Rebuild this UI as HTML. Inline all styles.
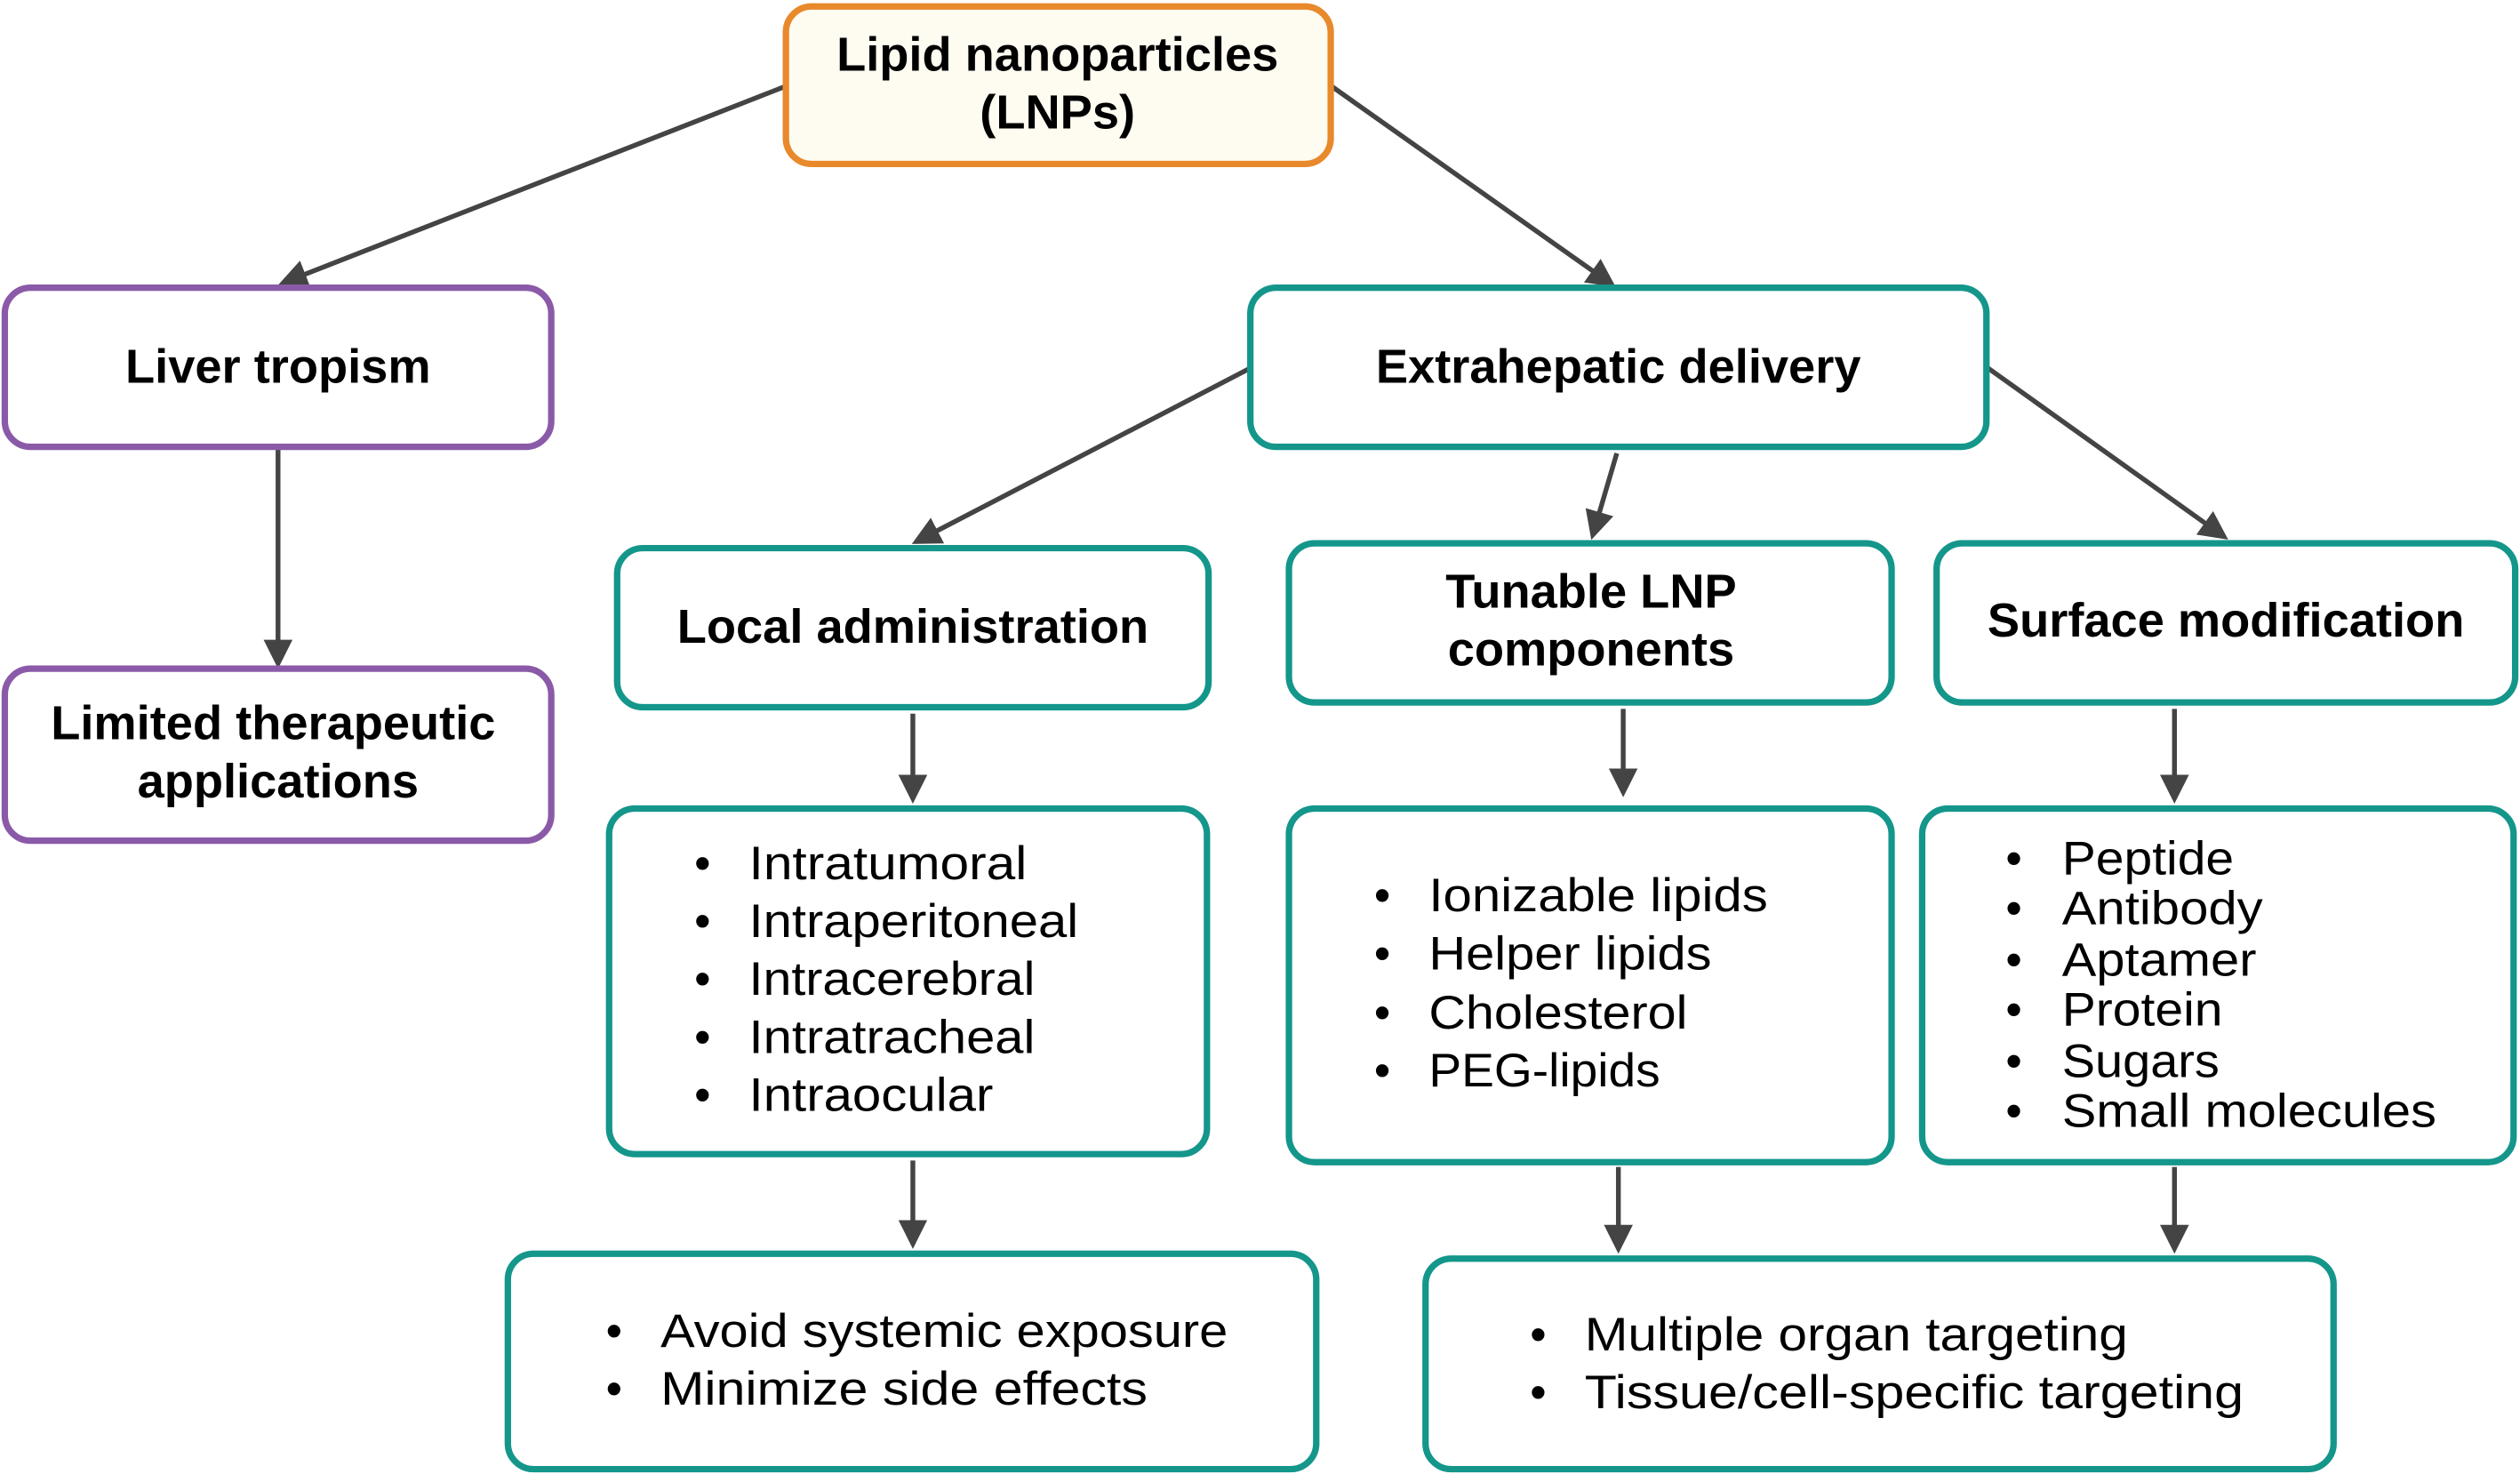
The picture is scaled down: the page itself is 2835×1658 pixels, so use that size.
<!DOCTYPE html>
<html><head><meta charset="utf-8"><style>
html,body{margin:0;padding:0;background:#fff;}
svg{display:block;}
text{font-family:"Liberation Sans",sans-serif;fill:#000;}
.h{font-weight:bold;font-size:30px;text-anchor:middle;}
.l{font-size:29px;}
.t{fill:#fff;stroke:#14968b;stroke-width:4;}
.p{fill:#fff;stroke:#8a5aa8;stroke-width:4;}
.a{stroke:#444;stroke-width:3;fill:none;marker-end:url(#ar);}
</style></head><body>
<svg width="2835" height="1658" viewBox="0 0 1568 917" xmlns="http://www.w3.org/2000/svg">
<defs><marker id="ar" markerWidth="6" markerHeight="6" refX="5" refY="3" orient="auto" markerUnits="strokeWidth"><path d="M0,0 L6,3 L0,6 z" fill="#444"/></marker></defs>
<line class="a" x1="488" y1="54" x2="176" y2="176"/>
<line class="a" x1="829" y1="54" x2="1003" y2="177"/>
<line class="a" x1="173" y1="278" x2="173" y2="413"/>
<line class="a" x1="778" y1="229" x2="570" y2="337"/>
<line class="a" x1="1006" y1="282" x2="991" y2="333"/>
<line class="a" x1="1237" y1="229" x2="1384" y2="334"/>
<line class="a" x1="568" y1="444" x2="568" y2="497"/>
<line class="a" x1="1010" y1="441" x2="1010" y2="493"/>
<line class="a" x1="1353" y1="441" x2="1353" y2="497"/>
<line class="a" x1="568" y1="722" x2="568" y2="774"/>
<line class="a" x1="1007" y1="726" x2="1007" y2="777"/>
<line class="a" x1="1353" y1="726" x2="1353" y2="777"/>

<rect x="489" y="4" width="339" height="98" rx="16" fill="#fefbf1" stroke="#e8892b" stroke-width="4"/>
<text class="h" x="658" y="44">Lipid nanoparticles</text>
<text class="h" x="658" y="80">(LNPs)</text>

<rect class="p" x="3" y="179" width="340" height="99" rx="16"/>
<text class="h" x="173" y="238">Liver tropism</text>
<rect class="p" x="3" y="416" width="340" height="107" rx="16"/>
<text class="h" x="170" y="460">Limited therapeutic</text>
<text class="h" x="173" y="496">applications</text>

<rect class="t" x="778" y="179" width="458" height="99" rx="16"/>
<text class="h" x="1007" y="238">Extrahepatic delivery</text>
<rect class="t" x="384" y="341" width="368" height="99" rx="16"/>
<text class="h" x="568" y="400">Local administration</text>
<rect class="t" x="802" y="338" width="375" height="99" rx="16"/>
<text class="h" x="990" y="378">Tunable LNP</text>
<text class="h" x="990" y="414">components</text>
<rect class="t" x="1205" y="338" width="360" height="99" rx="16"/>
<text class="h" x="1385" y="396">Surface modification</text>

<rect class="t" x="379" y="503" width="372" height="215" rx="16"/>
<g class="l">
<text x="432" y="547">•</text><text x="466" y="547" textLength="173" lengthAdjust="spacingAndGlyphs">Intratumoral</text>
<text x="432" y="583">•</text><text x="466" y="583" textLength="205" lengthAdjust="spacingAndGlyphs">Intraperitoneal</text>
<text x="432" y="619">•</text><text x="466" y="619" textLength="178" lengthAdjust="spacingAndGlyphs">Intracerebral</text>
<text x="432" y="655">•</text><text x="466" y="655" textLength="178" lengthAdjust="spacingAndGlyphs">Intratracheal</text>
<text x="432" y="691">•</text><text x="466" y="691" textLength="152" lengthAdjust="spacingAndGlyphs">Intraocular</text>
</g>
<rect class="t" x="802" y="503" width="375" height="220" rx="16"/>
<g class="l">
<text x="855" y="567">•</text><text x="889" y="567" textLength="211" lengthAdjust="spacingAndGlyphs">Ionizable lipids</text>
<text x="855" y="603">•</text><text x="889" y="603" textLength="176" lengthAdjust="spacingAndGlyphs">Helper lipids</text>
<text x="855" y="640">•</text><text x="889" y="640" textLength="161" lengthAdjust="spacingAndGlyphs">Cholesterol</text>
<text x="855" y="676">•</text><text x="889" y="676" textLength="144" lengthAdjust="spacingAndGlyphs">PEG-lipids</text>
</g>
<rect class="t" x="1196" y="503" width="368" height="220" rx="16"/>
<g class="l">
<text x="1248" y="544">•</text><text x="1283" y="544" textLength="107" lengthAdjust="spacingAndGlyphs">Peptide</text>
<text x="1248" y="575">•</text><text x="1283" y="575" textLength="125" lengthAdjust="spacingAndGlyphs">Antibody</text>
<text x="1248" y="607">•</text><text x="1283" y="607" textLength="121" lengthAdjust="spacingAndGlyphs">Aptamer</text>
<text x="1248" y="638">•</text><text x="1283" y="638" textLength="100" lengthAdjust="spacingAndGlyphs">Protein</text>
<text x="1248" y="670">•</text><text x="1283" y="670" textLength="98" lengthAdjust="spacingAndGlyphs">Sugars</text>
<text x="1248" y="701">•</text><text x="1283" y="701" textLength="233" lengthAdjust="spacingAndGlyphs">Small molecules</text>
</g>
<rect class="t" x="316" y="780" width="503" height="134" rx="16"/>
<g class="l">
<text x="377" y="838">•</text><text x="411" y="838" textLength="353" lengthAdjust="spacingAndGlyphs">Avoid systemic exposure</text>
<text x="377" y="874">•</text><text x="411" y="874" textLength="303" lengthAdjust="spacingAndGlyphs">Minimize side effects</text>
</g>
<rect class="t" x="887" y="783" width="565" height="131" rx="16"/>
<g class="l">
<text x="952" y="840">•</text><text x="986" y="840" textLength="338" lengthAdjust="spacingAndGlyphs">Multiple organ targeting</text>
<text x="952" y="876">•</text><text x="986" y="876" textLength="410" lengthAdjust="spacingAndGlyphs">Tissue/cell-specific targeting</text>
</g>
</svg>
</body></html>
